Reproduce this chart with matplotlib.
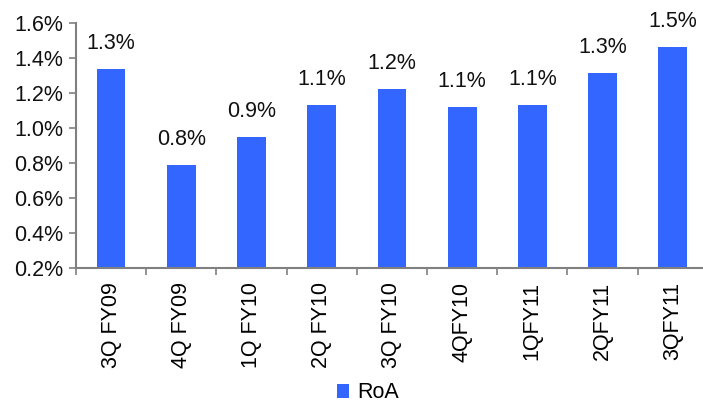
import numpy as np
import matplotlib.pyplot as plt
from matplotlib.ticker import FuncFormatter, FixedLocator

plt.rcParams['font.family'] = ['Liberation Sans', 'DejaVu Sans']

quarters = ['3Q FY09', '4Q FY09', '1Q FY10', '2Q FY10', '3Q FY10',
            '4QFY10', '1QFY11', '2QFY11', '3QFY11']
roa = [1.337, 0.789, 0.949, 1.131, 1.223, 1.12, 1.131, 1.314, 1.463]

fs = 15.5

fig = plt.figure(figsize=(7.03, 4.07), dpi=100)
ax = fig.add_axes([0.108, 0.3415, 0.899, 0.602])

x = np.arange(len(quarters))
ax.bar(x, roa, width=0.41, color='#3366FF', label='RoA', zorder=2)

for xi, v in zip(x, roa):
    ax.annotate(f'{v:.1f}%', (xi, v), xytext=(0, 18.5), textcoords='offset points',
                ha='center', va='center', fontsize=fs, color='#111111')

ax.set_xlim(-0.5, len(quarters) - 0.5)
ax.set_ylim(0.2, 1.6)
ax.set_yticks(np.arange(0.2, 1.61, 0.2))
ax.yaxis.set_major_formatter(FuncFormatter(lambda v, p: f'{v:.1f}%'))

# category labels at centres, tick marks at the boundaries
ax.set_xticks(x)
ax.set_xticklabels(quarters, rotation=90, fontsize=fs)
ax.tick_params(axis='x', which='major', length=0, pad=10)
ax.xaxis.set_minor_locator(FixedLocator(np.arange(-0.5, len(quarters), 1.0)))
ax.tick_params(axis='x', which='minor', length=5, direction='out', color='#808080', width=1.2)
ax.tick_params(axis='y', length=5, direction='out', color='#808080', width=1.2,
               labelsize=fs, pad=4, labelcolor='#111111')

for s in ['top', 'right']:
    ax.spines[s].set_visible(False)
for s in ['left', 'bottom']:
    ax.spines[s].set_color('#808080')
    ax.spines[s].set_linewidth(1.5)

fig.legend(loc='center', bbox_to_anchor=(0.523, 0.035), frameon=False, fontsize=fs,
           handlelength=0.6, handleheight=0.6, handletextpad=0.35)

fig.savefig('out.png', dpi=100)
